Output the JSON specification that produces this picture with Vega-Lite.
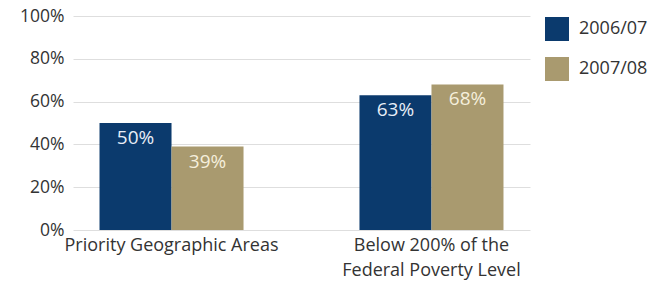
{
  "$schema": "https://vega.github.io/schema/vega-lite/v6.json",
  "width": 457,
  "height": 214,
  "autosize": "none",
  "padding": {"left": 73, "top": 16, "right": 140, "bottom": 54},
  "background": "white",
  "config": {
    "font": "Open Sans",
    "view": {"stroke": null}
  },
  "data": {
    "values": [
      {"group": "Priority Geographic Areas", "year": "2006/07", "value": 0.50},
      {"group": "Priority Geographic Areas", "year": "2007/08", "value": 0.39},
      {"group": "Below 200% of the Federal Poverty Level", "year": "2006/07", "value": 0.63},
      {"group": "Below 200% of the Federal Poverty Level", "year": "2007/08", "value": 0.68}
    ]
  },
  "encoding": {
    "x": {
      "field": "group",
      "type": "nominal",
      "sort": null,
      "scale": {"paddingInner": 0.446, "paddingOuter": 0.102},
      "axis": {
        "title": null,
        "labelAngle": 0,
        "labelFontSize": 18,
        "labelColor": "#333333",
        "labelPadding": 6,
        "labelLineHeight": 25,
        "labelBaseline": "top",
        "labelLimit": 400,
        "domain": false,
        "ticks": false,
        "labelExpr": "datum.label == 'Below 200% of the Federal Poverty Level' ? ['Below 200% of the', 'Federal Poverty Level'] : datum.label"
      }
    },
    "xOffset": {"field": "year", "type": "nominal", "scale": {"paddingInner": 0}},
    "y": {
      "field": "value",
      "type": "quantitative",
      "scale": {"domain": [0, 1]},
      "axis": {
        "title": null,
        "format": ".0%",
        "values": [0, 0.2, 0.4, 0.6, 0.8, 1],
        "labelFontSize": 17.5,
        "labelColor": "#333333",
        "labelPadding": 9,
        "domain": false,
        "ticks": false,
        "gridColor": "#dedede",
        "gridWidth": 1
      }
    }
  },
  "layer": [
    {
      "mark": {"type": "bar"},
      "encoding": {
        "color": {
          "field": "year",
          "type": "nominal",
          "scale": {"domain": ["2006/07", "2007/08"], "range": ["#0b3a6d", "#a99a6f"]},
          "legend": {
            "title": null,
            "orient": "none",
            "legendX": 472,
            "legendY": 1,
            "symbolType": "square",
            "symbolSize": 576,
            "symbolStrokeWidth": 0,
            "symbolOpacity": 1,
            "labelFontSize": 18,
            "labelColor": "#333333",
            "labelOffset": 10,
            "rowPadding": 16
          }
        }
      }
    },
    {
      "mark": {"type": "text", "baseline": "top", "dy": 6, "fontSize": 19},
      "encoding": {
        "text": {"field": "value", "type": "quantitative", "format": ".0%"},
        "color": {
          "condition": {"test": "datum.year == '2006/07'", "value": "#e8eef7"},
          "value": "#f5efdc"
        }
      }
    }
  ]
}
